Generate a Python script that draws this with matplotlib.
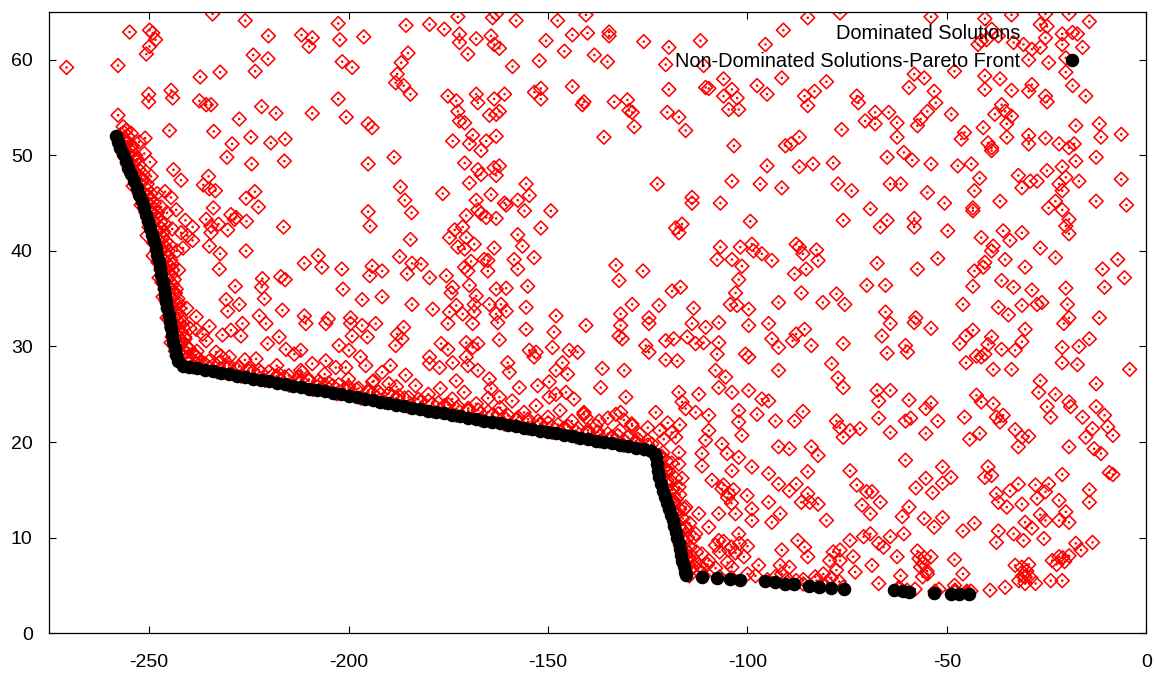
import numpy as np
import matplotlib
matplotlib.use("Agg")
import matplotlib.pyplot as plt
from matplotlib.path import Path
from matplotlib.lines import Line2D

plt.rcParams["font.family"] = ["Liberation Sans", "DejaVu Sans"]

# ---------------------------------------------------------------------------
# Non-dominated solutions (Pareto front), (objective 1, objective 2)
# ---------------------------------------------------------------------------
pareto_upper = [
    (-258.4, 52.0), (-257.9, 51.4), (-257.2, 50.8), (-256.5, 50.1), (-255.9, 49.4),
    (-255.2, 48.7), (-254.5, 48.0), (-253.8, 47.3), (-253.1, 46.6), (-252.5, 45.9),
    (-251.9, 45.2), (-251.3, 44.5), (-250.8, 43.8), (-250.2, 43.1), (-249.7, 42.4),
    (-249.2, 41.7), (-248.8, 41.0), (-248.4, 40.3), (-248.0, 39.6), (-247.6, 38.9),
    (-247.2, 38.2), (-246.9, 37.5), (-246.6, 36.8), (-246.3, 36.1), (-246.0, 35.4),
    (-245.7, 34.7), (-245.4, 34.0), (-245.1, 33.3), (-244.8, 32.6), (-244.5, 31.9),
    (-244.2, 31.2), (-243.9, 30.5), (-243.6, 29.8), (-243.2, 29.1), (-242.7, 28.5),
]
pareto_middle = [
    (-241.5, 28.0), (-240.0, 27.85), (-238.0, 27.7), (-236.0, 27.55), (-234.0, 27.4),
    (-232.0, 27.25), (-230.0, 27.1), (-228.0, 26.95), (-226.0, 26.8), (-224.0, 26.65),
    (-222.0, 26.5), (-220.0, 26.35), (-218.0, 26.2), (-216.0, 26.05), (-214.0, 25.9),
    (-212.0, 25.75), (-210.0, 25.6), (-208.0, 25.45), (-206.0, 25.3), (-204.0, 25.15),
    (-202.0, 25.0), (-200.0, 24.85), (-198.0, 24.7), (-196.0, 24.55), (-194.0, 24.4),
    (-192.0, 24.2), (-190.0, 24.05), (-188.0, 23.9), (-186.0, 23.75), (-184.0, 23.6),
    (-182.0, 23.45), (-180.0, 23.3), (-178.0, 23.15), (-176.0, 23.0), (-174.0, 22.85),
    (-172.0, 22.7), (-170.0, 22.55), (-168.0, 22.4), (-166.0, 22.25), (-164.0, 22.1),
    (-162.0, 21.95), (-160.0, 21.8), (-158.0, 21.65), (-156.0, 21.5), (-154.0, 21.35),
    (-152.0, 21.2), (-150.0, 21.05), (-148.0, 20.9), (-146.0, 20.75), (-144.0, 20.6),
    (-142.0, 20.45), (-140.0, 20.3), (-138.0, 20.15), (-136.0, 20.0), (-134.0, 19.85),
    (-132.0, 19.7), (-130.0, 19.55), (-128.0, 19.4), (-126.0, 19.25), (-124.2, 19.05),
]
pareto_lower = [
    (-123.3, 18.8), (-123.0, 18.4), (-122.8, 17.7), (-122.5, 17.0), (-122.2, 16.3),
    (-121.8, 15.6), (-121.3, 14.9), (-120.7, 14.2), (-120.1, 13.6), (-119.6, 13.0),
    (-119.1, 12.4), (-118.7, 11.8), (-118.3, 11.2), (-117.9, 10.6), (-117.6, 10.0),
    (-117.2, 9.4), (-116.9, 8.8), (-116.6, 8.2), (-116.3, 7.6), (-116.0, 7.0),
    (-115.7, 6.4), (-115.3, 6.1),
    (-111.4, 5.9), (-107.6, 5.8), (-104.3, 5.65), (-101.8, 5.6), (-95.5, 5.45),
    (-93.0, 5.4), (-90.5, 5.2), (-88.4, 5.1), (-84.6, 4.95), (-82.0, 4.85),
    (-79.0, 4.75), (-75.7, 4.65), (-63.3, 4.5), (-61.0, 4.4), (-59.4, 4.3),
    (-53.2, 4.25), (-49.0, 4.1), (-47.0, 4.1), (-44.4, 4.05),
]

# ---------------------------------------------------------------------------
# Dominated solutions
# ---------------------------------------------------------------------------
dominated_front_band = [
    # along the steep upper part of the front
    (-256.5, 53.0), (-255.8, 52.6), (-254.5, 52.3), (-256.0, 51.5), (-254.2, 51.0),
    (-252.5, 51.4), (-251.0, 51.8), (-255.0, 50.0), (-253.0, 49.6), (-251.2, 50.2),
    (-249.8, 49.3), (-253.6, 48.3), (-251.8, 47.5), (-249.5, 47.8), (-252.5, 46.3),
    (-250.4, 45.8), (-248.0, 46.0), (-246.0, 46.2), (-244.5, 45.6), (-251.2, 44.5),
    (-249.2, 44.0), (-247.0, 44.6), (-245.5, 44.0), (-243.2, 44.3), (-250.0, 42.5),
    (-248.0, 42.0), (-246.0, 42.8), (-244.2, 42.3), (-242.0, 41.9), (-240.4, 41.6),
    (-248.8, 40.8), (-246.8, 40.2), (-244.8, 40.6), (-243.0, 40.0), (-241.5, 40.3),
    (-247.8, 38.8), (-246.0, 38.2), (-244.2, 38.6), (-242.6, 38.0), (-246.8, 36.7),
    (-245.0, 36.2), (-243.4, 35.6), (-245.8, 34.8), (-244.2, 34.0), (-242.5, 34.5),
    (-240.6, 34.0), (-245.0, 32.8), (-243.3, 32.2), (-241.5, 32.5), (-239.8, 31.9),
    (-244.2, 31.0), (-242.6, 30.5), (-241.0, 30.8), (-243.4, 29.5), (-241.8, 29.2),
    (-240.0, 29.8), (-238.5, 29.1),
    (-257.0, 52.2), (-255.5, 49.2), (-254.0, 46.8), (-252.0, 44.8), (-250.5, 41.6),
    (-249.0, 39.5), (-247.5, 37.2), (-246.5, 35.2), (-245.5, 33.0), (-244.5, 30.4),
    (-257.5, 52.0), (-256.9, 51.0), (-256.2, 50.0), (-255.3, 49.0), (-254.4, 48.0),
    (-253.4, 47.0), (-252.5, 46.0), (-251.6, 45.0), (-250.8, 44.0), (-250.0, 43.0),
    (-249.3, 42.0), (-248.7, 41.0), (-248.1, 40.0), (-247.5, 39.0), (-247.0, 38.0),
    (-246.5, 37.0), (-246.0, 36.0), (-245.6, 35.0), (-245.2, 34.0), (-244.8, 33.0),
    (-244.4, 32.0), (-244.0, 31.0), (-243.5, 30.0), (-243.0, 29.0),
    (-256.3, 52.4), (-255.7, 51.2), (-255.0, 50.2), (-254.1, 49.0), (-253.2, 48.0),
    (-252.2, 47.0), (-251.3, 46.0), (-250.4, 45.0), (-249.6, 44.0), (-248.8, 43.0),
    (-248.1, 42.0), (-247.5, 41.0), (-246.9, 40.0), (-246.3, 39.0), (-245.8, 38.0),
    (-245.3, 37.0), (-244.8, 36.0), (-244.4, 35.0), (-244.0, 34.0), (-243.6, 33.0),
    (-243.2, 32.0), (-242.8, 31.0), (-242.3, 30.0), (-241.8, 29.0),
    (-255.6, 51.5), (-254.6, 50.5), (-253.6, 49.5), (-252.6, 48.5), (-251.6, 47.5),
    (-250.6, 46.5), (-249.7, 45.5), (-248.9, 44.5), (-248.1, 43.5), (-247.3, 42.5),
    (-246.7, 41.5), (-246.1, 40.5), (-245.5, 39.5), (-245.0, 38.5), (-244.5, 37.5),
    (-244.1, 36.5), (-243.6, 35.5), (-243.2, 34.5), (-242.8, 33.5), (-242.4, 32.5),
    (-241.9, 31.5), (-241.5, 30.5), (-241.0, 29.5), (-240.5, 28.8),
    (-255.4, 52.0), (-254.5, 51.0), (-253.4, 50.0), (-252.5, 49.0), (-251.5, 48.0),
    (-250.5, 47.0), (-249.6, 46.0), (-248.7, 45.0), (-247.9, 44.0), (-247.1, 43.0),
    (-246.4, 42.0), (-245.8, 41.0), (-245.2, 40.0), (-244.6, 39.0), (-244.1, 38.0),
    (-243.7, 37.0), (-243.2, 36.0), (-242.8, 35.0), (-242.4, 34.0), (-242.0, 33.0),
    (-241.5, 32.0), (-241.1, 31.0), (-240.7, 30.0), (-240.1, 29.0),
    # along the gently sloping middle part
    (-240.0, 28.4), (-237.0, 28.3), (-234.0, 28.0), (-231.0, 27.9), (-228.0, 27.6),
    (-225.0, 27.4), (-222.0, 27.3), (-219.0, 27.0), (-216.0, 26.8), (-213.0, 26.6),
    (-210.0, 26.4), (-207.0, 26.1), (-204.0, 25.9), (-201.0, 25.6), (-198.0, 25.5),
    (-195.0, 25.2), (-192.0, 25.0), (-189.0, 24.8), (-186.0, 24.6),
    (-238.0, 29.5), (-232.0, 29.0), (-226.0, 28.6), (-218.0, 28.0), (-212.0, 27.5),
    (-206.0, 27.1), (-200.0, 26.6), (-194.0, 26.3), (-188.0, 25.8),
    (-182.0, 24.2), (-179.0, 24.0), (-176.0, 23.8), (-173.0, 23.5), (-170.0, 23.3),
    (-167.0, 23.0), (-164.0, 22.8), (-161.0, 22.6), (-158.0, 22.3), (-155.0, 22.1),
    (-152.0, 21.8), (-149.0, 21.6), (-146.0, 21.4), (-143.0, 21.1), (-140.0, 20.9),
    (-137.0, 20.6), (-134.0, 20.4), (-131.0, 20.2), (-128.0, 19.9), (-125.0, 19.7),
    (-180.0, 25.0), (-174.0, 24.5), (-168.0, 24.0), (-162.0, 23.6), (-156.0, 23.1),
    (-150.0, 22.6), (-144.0, 22.2), (-138.0, 21.7), (-132.0, 21.2), (-127.0, 20.8),
    (-177.0, 25.6), (-171.0, 25.2), (-165.0, 24.6), (-159.0, 24.3), (-153.0, 23.8),
    (-147.0, 23.3), (-141.0, 22.9), (-135.0, 22.5), (-133.0, 22.9), (-131.0, 22.3),
    (-129.0, 21.9), (-125.0, 21.5), (-122.0, 21.2), (-120.0, 22.0), (-119.0, 21.0),
    (-121.0, 20.3), (-118.0, 20.5), (-117.0, 21.8),
    (-239.0, 27.85), (-233.0, 27.35), (-227.0, 26.9), (-221.0, 26.45), (-215.0, 25.95),
    (-209.0, 25.5), (-203.0, 25.05), (-197.0, 24.6), (-191.0, 24.15), (-185.0, 23.7),
    (-179.0, 23.25), (-173.0, 22.8), (-167.0, 22.35), (-161.0, 21.9), (-155.0, 21.45),
    (-149.0, 21.0), (-143.0, 20.55), (-137.0, 20.1), (-131.0, 19.65), (-126.0, 19.3),
    (-236.0, 28.2), (-230.0, 27.8), (-224.0, 27.35), (-218.0, 26.9), (-212.0, 26.45),
    (-206.0, 26.0), (-200.0, 25.55), (-194.0, 25.1), (-188.0, 24.6), (-182.0, 24.15),
    (-176.0, 23.7), (-170.0, 23.25), (-164.0, 22.8), (-158.0, 22.35), (-152.0, 21.9),
    (-146.0, 21.45), (-140.0, 21.0), (-134.0, 20.55), (-128.0, 20.1), (-124.0, 19.8),
    (-240.0, 28.85), (-237.5, 28.66), (-235.0, 28.47), (-232.5, 28.28), (-230.0, 28.09),
    (-227.5, 27.9), (-225.0, 27.71), (-222.5, 27.52), (-220.0, 27.33), (-217.5, 27.14),
    (-215.0, 26.95), (-212.5, 26.76), (-210.0, 26.57), (-207.5, 26.38), (-205.0, 26.19),
    (-202.5, 26.0), (-200.0, 25.81), (-197.5, 25.62), (-195.0, 25.43), (-192.5, 25.24),
    (-190.0, 25.05), (-187.5, 24.86), (-185.0, 24.67), (-182.5, 24.48), (-180.0, 24.29),
    (-177.5, 24.1), (-175.0, 23.91), (-172.5, 23.72), (-170.0, 23.53), (-167.5, 23.34),
    (-165.0, 23.15), (-162.5, 22.96), (-160.0, 22.77), (-157.5, 22.58), (-155.0, 22.39),
    (-152.5, 22.2), (-150.0, 22.01), (-147.5, 21.82), (-145.0, 21.63), (-142.5, 21.44),
    (-140.0, 21.25), (-137.5, 21.06), (-135.0, 20.87), (-132.5, 20.68), (-130.0, 20.49),
    (-127.5, 20.3), (-125.0, 20.11),
    # along the steep lower part and the tail
    (-121.5, 18.5), (-120.5, 17.0), (-119.8, 15.5), (-118.8, 14.0), (-117.5, 12.5),
    (-116.8, 11.0), (-115.5, 9.5), (-114.8, 8.0), (-114.0, 6.8), (-119.0, 17.8),
    (-118.0, 16.2), (-117.0, 14.5), (-115.8, 13.0), (-114.5, 11.5), (-113.5, 10.0),
    (-112.8, 8.5), (-112.0, 7.0),
    (-122.3, 18.6), (-121.9, 17.5), (-121.3, 16.3), (-120.6, 15.1), (-119.7, 13.9),
    (-118.8, 12.7), (-118.0, 11.5), (-117.3, 10.3), (-116.7, 9.1), (-116.1, 7.9),
    (-115.5, 6.8), (-114.6, 6.0),
    (-121.2, 18.9), (-120.8, 17.3), (-120.2, 16.0), (-119.4, 14.8), (-118.6, 13.6),
    (-117.8, 12.4), (-117.0, 11.2), (-116.3, 10.0), (-115.7, 8.8), (-115.1, 7.6),
    (-114.4, 6.6),
    (-120.3, 18.0), (-119.9, 17.0), (-119.4, 16.0), (-118.8, 15.0), (-117.9, 14.0),
    (-117.0, 13.0), (-116.2, 12.0), (-115.6, 11.0), (-115.0, 10.0), (-114.4, 9.0),
    (-113.9, 8.0), (-113.4, 7.0),
    (-108.0, 9.2), (-106.0, 9.6), (-104.0, 9.0), (-102.0, 9.4), (-100.0, 9.1),
    (-107.0, 8.5), (-103.0, 8.4), (-110.0, 7.2), (-108.0, 6.8), (-105.0, 7.4),
    (-105.0, 14.2), (-103.5, 15.0), (-104.0, 13.6), (-106.0, 15.5),
    (-83.0, 5.9), (-81.0, 6.2), (-79.0, 5.8), (-77.0, 5.4), (-80.0, 5.3),
    (-86.0, 5.6), (-90.0, 5.7), (-93.0, 5.9), (-98.0, 6.0), (-100.0, 6.2),
    (-62.0, 4.8), (-58.0, 4.6), (-52.0, 4.6), (-48.0, 4.5), (-45.0, 4.4),
    (-31.0, 6.0), (-30.0, 6.5), (-29.0, 5.8), (-32.0, 5.5), (-29.5, 7.2),
    (-22.5, 7.2), (-21.0, 7.9), (-20.5, 7.5), (-56.0, 7.3), (-55.0, 6.5),
    (-57.0, 7.8), (-44.0, 4.4),
    (-111.0, 6.0), (-107.0, 5.9), (-104.0, 5.8), (-95.0, 5.6), (-90.0, 5.35),
    (-86.0, 5.15), (-81.0, 5.0), (-76.0, 4.8), (-62.0, 4.6), (-60.0, 4.5),
    (-53.0, 4.4), (-48.0, 4.3), (-45.0, 4.2),
]

dominated_left = [
    (-234.1, 64.8), (-225.9, 64.1), (-202.6, 63.8), (-185.6, 63.6), (-254.9, 62.9),
    (-249.9, 63.1), (-249.1, 62.8), (-248.4, 62.1), (-249.9, 61.4), (-250.7, 60.6),
    (-220.1, 62.5), (-211.8, 62.6), (-209.1, 62.3), (-202.2, 62.1), (-196.2, 62.4),
    (-209.9, 61.4), (-185.1, 60.7), (-270.7, 59.2), (-257.8, 59.4), (-223.9, 60.5),
    (-220.2, 60.1), (-201.6, 59.8), (-199.1, 59.2), (-186.8, 59.7), (-187.8, 58.5),
    (-188.2, 57.6), (-186.2, 57.3), (-184.5, 56.4), (-237.2, 58.2), (-232.2, 58.7),
    (-223.4, 58.8), (-250.1, 56.4), (-250.1, 55.6), (-244.5, 56.8), (-244.1, 56.0),
    (-237.4, 55.7), (-235.7, 55.3), (-234.5, 55.3), (-221.8, 55.1), (-218.2, 54.4),
    (-209.1, 54.4), (-202.6, 55.9), (-200.6, 54.0), (-195.1, 53.3), (-194.1, 52.9),
    (-257.8, 54.2), (-227.4, 53.8), (-244.9, 52.6), (-233.8, 52.5), (-229.2, 51.2),
    (-224.5, 51.9), (-219.5, 51.3), (-215.9, 51.7), (-230.5, 49.8), (-224.3, 49.1),
    (-216.1, 49.4), (-195.1, 49.1), (-188.6, 49.8), (-243.9, 48.5), (-235.1, 47.8),
    (-242.0, 47.4), (-236.4, 46.9), (-234.9, 46.5), (-233.4, 46.3), (-223.5, 46.2),
    (-225.7, 45.5), (-222.6, 44.6), (-233.9, 44.5), (-229.5, 43.8), (-228.2, 43.5),
    (-235.7, 43.3), (-234.5, 42.6), (-232.6, 42.8), (-230.3, 42.2), (-228.6, 43.3),
    (-225.6, 43.1), (-239.1, 42.5), (-240.9, 43.2), (-195.1, 44.1), (-194.6, 42.6),
    (-187.0, 46.7), (-185.9, 45.3), (-184.2, 44.0), (-184.5, 41.2), (-216.3, 42.5),
    (-239.1, 41.1), (-234.5, 41.9), (-234.9, 40.5), (-232.2, 39.7), (-225.7, 40.0),
    (-211.1, 38.7), (-207.6, 39.5), (-206.7, 38.3), (-201.7, 38.1), (-194.1, 38.4),
    (-191.6, 37.9), (-194.7, 37.4), (-187.2, 39.4), (-184.1, 38.7), (-185.3, 37.6),
    (-232.4, 38.1), (-228.4, 36.3), (-221.6, 37.1), (-221.8, 36.2), (-217.0, 37.3),
    (-215.9, 37.0), (-201.4, 36.0), (-196.6, 34.9), (-191.6, 35.2), (-184.1, 34.4),
    (-230.7, 34.9), (-227.4, 34.4), (-221.1, 35.0), (-216.6, 33.8), (-230.3, 33.7),
    (-222.4, 33.2), (-211.1, 33.2), (-205.1, 32.9), (-199.5, 33.0), (-238.2, 33.1),
    (-238.2, 31.8), (-234.9, 32.1), (-231.6, 31.2), (-229.5, 31.7), (-226.6, 32.4),
    (-227.0, 31.1), (-220.7, 32.4), (-220.3, 30.3), (-223.2, 28.7), (-217.4, 31.0),
    (-215.7, 29.7), (-213.6, 29.2), (-212.0, 29.6), (-210.7, 32.4), (-205.7, 32.4),
    (-199.5, 32.4), (-196.6, 32.2), (-193.2, 32.4), (-199.1, 31.1), (-195.3, 31.0),
    (-188.2, 30.1), (-187.8, 31.3), (-186.2, 32.0), (-186.6, 30.8), (-202.4, 30.1),
    (-199.9, 29.6), (-197.0, 28.9), (-191.6, 27.3), (-189.5, 28.0), (-185.7, 27.0),
    (-183.2, 25.9), (-209.1, 28.2), (-205.7, 28.5), (-203.2, 27.8), (-211.6, 27.3),
    (-200.7, 27.8), (-195.7, 28.0), (-193.7, 26.4), (-189.9, 26.1), (-238.2, 28.9),
    (-233.2, 29.4), (-229.9, 28.9), (-235.7, 30.6), (-236.6, 31.3),
]

dominated_middle = [
    (-179.7, 63.7), (-176.0, 63.2), (-172.6, 64.5), (-163.9, 64.4), (-163.0, 64.8),
    (-158.0, 64.1), (-147.6, 64.1), (-140.5, 64.7), (-140.1, 62.8), (-143.9, 62.6),
    (-150.5, 62.0), (-134.7, 62.9), (-134.7, 62.5), (-126.0, 61.9), (-111.8, 62.0),
    (-119.7, 61.3), (-95.5, 61.6), (-91.0, 63.1), (-172.2, 62.7), (-168.0, 62.2),
    (-164.3, 62.5), (-172.2, 61.8), (-163.5, 61.6), (-162.2, 61.2), (-170.1, 60.6),
    (-158.9, 59.3), (-152.2, 59.9), (-145.9, 60.9), (-138.4, 60.5), (-135.1, 59.8),
    (-120.5, 59.5), (-111.0, 59.4), (-106.0, 58.0), (-110.5, 57.1), (-109.7, 57.0),
    (-103.9, 56.9), (-102.6, 56.0), (-97.6, 57.3), (-95.1, 56.4), (-91.4, 58.1),
    (-104.7, 54.8), (-102.2, 54.8), (-120.1, 54.5), (-117.2, 54.0), (-115.5, 52.6),
    (-119.7, 56.9), (-106.0, 56.2), (-143.9, 57.2), (-151.8, 57.0), (-153.4, 56.6),
    (-151.8, 55.9), (-141.0, 55.6), (-141.4, 55.3), (-133.4, 55.6), (-130.1, 55.8),
    (-129.7, 54.7), (-128.9, 54.5), (-128.4, 53.0), (-136.0, 51.9), (-175.1, 56.2),
    (-173.0, 55.7), (-172.6, 54.6), (-168.0, 56.4), (-167.6, 55.5), (-163.5, 55.9),
    (-160.9, 56.4), (-162.2, 54.6), (-163.0, 54.3), (-164.7, 54.2), (-172.2, 53.6),
    (-170.9, 53.4), (-173.9, 51.5), (-168.9, 52.1), (-165.5, 51.5), (-163.0, 52.0),
    (-169.7, 51.2), (-166.8, 50.5), (-170.9, 49.2), (-167.6, 48.5), (-166.8, 48.0),
    (-163.5, 48.7), (-162.2, 48.9), (-163.0, 47.9), (-169.7, 47.1), (-176.4, 46.0),
    (-164.3, 45.9), (-168.0, 45.3), (-160.9, 45.0), (-160.5, 44.8), (-157.6, 45.3),
    (-154.7, 45.8), (-155.5, 47.0), (-167.6, 44.3), (-166.8, 43.9), (-163.0, 43.4),
    (-165.5, 43.5), (-170.5, 43.7), (-149.3, 44.2), (-155.9, 44.2), (-151.8, 42.4),
    (-173.4, 42.2), (-171.4, 42.5), (-174.7, 41.4), (-170.5, 41.4), (-172.6, 40.4),
    (-170.9, 40.2), (-168.5, 40.7), (-163.5, 40.3), (-166.0, 39.1), (-165.1, 39.0),
    (-157.6, 41.7), (-156.4, 40.5), (-158.5, 39.1), (-153.5, 39.3), (-157.6, 38.1),
    (-169.3, 38.9), (-170.9, 38.3), (-170.1, 37.9), (-165.1, 37.9), (-175.5, 37.4),
    (-179.7, 37.2), (-181.8, 38.6), (-173.9, 36.2), (-169.7, 36.4), (-163.0, 36.0),
    (-160.5, 36.1), (-155.1, 36.3), (-168.0, 35.3), (-174.3, 35.6), (-173.0, 34.3),
    (-168.5, 34.4), (-164.7, 34.4), (-161.8, 34.4), (-178.9, 33.9), (-174.7, 33.6),
    (-171.4, 33.4), (-168.5, 33.6), (-163.0, 33.4), (-160.5, 33.7), (-155.5, 34.1),
    (-148.0, 33.2), (-133.0, 38.5), (-132.2, 36.9), (-126.2, 37.9), (-122.6, 47.0),
    (-113.9, 45.6), (-113.9, 45.0), (-106.8, 45.0), (-118.0, 42.4), (-116.4, 42.8),
    (-117.2, 41.9), (-99.3, 43.1), (-96.8, 47.0), (-91.4, 46.6), (-95.1, 48.9),
    (-103.9, 47.3), (-103.4, 51.0), (-90.5, 51.0), (-106.8, 40.4), (-107.6, 39.1),
    (-103.9, 39.1), (-101.8, 40.4), (-101.4, 38.4), (-98.9, 40.7), (-96.4, 39.7),
    (-93.9, 39.0), (-98.5, 40.0), (-102.2, 37.0), (-103.0, 35.6), (-104.3, 34.4),
    (-102.6, 34.3), (-99.7, 33.9), (-92.2, 34.6), (-116.8, 36.2), (-118.9, 35.8),
    (-128.9, 34.4), (-122.2, 34.3), (-113.5, 34.0), (-131.8, 33.4), (-124.7, 33.0),
    (-175.1, 32.4), (-168.9, 32.4), (-162.6, 32.5), (-155.5, 31.8), (-148.5, 31.5),
    (-140.5, 32.2), (-131.8, 32.2), (-124.7, 32.4), (-113.9, 32.4), (-110.5, 32.0),
    (-107.2, 32.5), (-99.7, 32.2), (-94.7, 32.4), (-176.8, 30.3), (-175.1, 29.7),
    (-170.5, 30.4), (-168.9, 29.9), (-167.6, 30.3), (-162.2, 30.7), (-170.5, 28.9),
    (-170.1, 28.0), (-173.0, 26.4), (-167.6, 27.5), (-164.7, 26.6), (-159.7, 27.3),
    (-160.1, 28.3), (-154.7, 29.6), (-153.5, 28.9), (-153.0, 29.4), (-148.9, 29.9),
    (-144.7, 29.6), (-142.6, 29.4), (-146.4, 28.3), (-148.0, 27.5), (-145.1, 27.1),
    (-149.7, 26.3), (-136.4, 27.7), (-130.9, 27.5), (-136.8, 25.7), (-130.5, 24.7),
    (-132.2, 31.1), (-131.4, 30.8), (-125.5, 30.1), (-124.7, 29.4), (-120.5, 30.6),
    (-120.5, 28.6), (-117.6, 28.5), (-118.5, 30.8), (-115.1, 31.0), (-113.0, 30.3),
    (-111.0, 30.4), (-107.6, 29.2), (-107.2, 30.4), (-100.5, 29.2), (-99.7, 28.9),
    (-93.9, 30.8), (-92.2, 29.9), (-92.2, 27.5), (-179.7, 28.9), (-179.7, 28.2),
    (-177.2, 27.8), (-173.9, 28.3), (-164.3, 25.6), (-162.2, 24.7), (-157.2, 25.7),
    (-152.6, 25.9), (-148.0, 25.0), (-145.5, 25.2), (-149.7, 24.7), (-143.5, 24.5),
    (-141.0, 23.1), (-140.5, 22.6), (-137.2, 22.2), (-131.8, 23.1), (-128.9, 21.7),
    (-123.0, 23.1), (-117.2, 25.2), (-112.2, 25.0), (-116.4, 24.2), (-115.5, 23.5),
    (-113.0, 23.1), (-109.7, 22.8), (-108.0, 27.5), (-105.5, 26.8), (-107.2, 25.7),
    (-103.9, 25.2), (-99.7, 25.4), (-96.4, 24.5), (-94.7, 24.3), (-102.2, 23.3),
    (-97.6, 22.9), (-93.0, 22.2), (-102.2, 22.1), (-101.4, 20.7), (-92.2, 19.5),
    (-94.7, 16.7), (-92.2, 15.6), (-98.9, 17.4), (-102.2, 18.4), (-105.1, 18.8),
    (-109.7, 21.2), (-110.5, 20.2), (-106.4, 19.8), (-117.2, 18.9), (-111.4, 18.8),
    (-117.2, 17.7), (-116.4, 16.2), (-111.4, 17.5), (-108.9, 16.0), (-106.4, 15.1),
    (-103.9, 17.0), (-104.7, 14.6), (-100.1, 14.4), (-98.9, 13.0), (-94.7, 13.7),
    (-93.9, 11.6), (-91.8, 12.5), (-98.9, 11.8), (-102.2, 10.4), (-104.7, 8.7),
    (-100.9, 8.0), (-97.2, 7.1), (-103.9, 6.9), (-109.7, 7.6), (-111.4, 8.3),
    (-113.0, 10.4), (-109.7, 11.1), (-112.2, 12.5), (-115.5, 13.2), (-117.2, 15.3),
    (-115.5, 11.1), (-107.2, 12.5), (-103.0, 12.5), (-115.5, 8.3), (-107.2, 9.7),
    (-91.4, 8.7), (-91.8, 7.1), (-91.4, 6.2), (-111.4, 6.9),
]

dominated_right = [
    (-84.9, 64.4), (-76.8, 64.9), (-54.0, 64.5), (-40.5, 64.3), (-33.8, 64.7),
    (-25.3, 64.8), (-19.4, 64.8), (-14.3, 64.0), (-26.6, 63.7), (-24.9, 63.5),
    (-21.1, 62.7), (-17.3, 62.7), (-38.8, 63.2), (-41.4, 62.0), (-42.2, 61.6),
    (-40.1, 62.1), (-37.1, 62.5), (-33.3, 61.8), (-30.8, 61.6), (-28.7, 61.1),
    (-26.6, 61.3), (-25.3, 62.3), (-21.1, 61.6), (-29.5, 60.0), (-24.5, 59.7),
    (-20.2, 60.2), (-16.0, 61.3), (-48.1, 58.8), (-58.2, 58.5), (-55.7, 58.1),
    (-59.5, 57.1), (-53.2, 56.7), (-52.8, 55.5), (-54.9, 54.6), (-56.6, 53.8),
    (-57.4, 53.1), (-48.9, 54.3), (-45.6, 52.4), (-46.4, 51.7), (-40.9, 52.9),
    (-39.7, 51.3), (-38.8, 50.8), (-38.8, 50.5), (-35.0, 51.9), (-29.5, 52.1),
    (-25.3, 51.8), (-29.5, 51.2), (-21.9, 51.2), (-19.4, 50.8), (-18.1, 51.2),
    (-17.7, 49.4), (-12.6, 49.8), (-11.4, 51.9), (-6.3, 52.2), (-17.7, 53.1),
    (-11.8, 53.3), (-40.5, 58.3), (-36.7, 58.0), (-40.5, 56.9), (-33.8, 56.8),
    (-29.5, 56.7), (-28.7, 57.4), (-25.3, 56.2), (-24.9, 55.6), (-36.3, 55.3),
    (-35.4, 54.6), (-38.0, 54.3), (-33.8, 54.1), (-35.0, 53.3), (-18.5, 57.3),
    (-15.2, 56.2), (-20.2, 58.7), (-80.2, 57.7), (-83.2, 56.7), (-85.7, 56.2),
    (-84.9, 55.2), (-72.6, 56.2), (-72.2, 55.5), (-68.0, 54.5), (-64.6, 54.5),
    (-70.5, 53.6), (-68.0, 53.3), (-62.5, 53.4), (-62.5, 51.9), (-76.4, 52.7),
    (-87.0, 51.9), (-89.1, 51.2), (-65.0, 49.8), (-60.8, 50.3), (-58.7, 49.5),
    (-54.0, 49.1), (-47.3, 48.9), (-43.9, 49.1), (-41.8, 47.6), (-43.1, 46.3),
    (-43.5, 44.5), (-43.5, 44.2), (-78.5, 49.2), (-83.6, 49.1), (-87.0, 48.8),
    (-77.3, 47.0), (-73.9, 46.3), (-64.2, 47.0), (-61.6, 47.0), (-54.9, 46.1),
    (-50.6, 45.0), (-36.7, 45.2), (-32.1, 47.9), (-31.2, 46.6), (-29.1, 47.3),
    (-27.4, 47.3), (-24.9, 48.4), (-21.1, 48.8), (-20.2, 47.7), (-16.9, 47.3),
    (-21.9, 47.0), (-21.1, 46.3), (-22.8, 45.2), (-24.5, 44.5), (-21.1, 44.3),
    (-19.4, 43.3), (-20.2, 42.6), (-19.4, 41.8), (-6.3, 47.5), (-12.6, 45.2),
    (-5.0, 44.8), (-69.2, 44.4), (-66.7, 42.5), (-65.0, 43.2), (-76.0, 43.2),
    (-58.2, 43.4), (-58.2, 42.5), (-49.8, 42.1), (-41.4, 41.4), (-35.9, 42.1),
    (-31.2, 41.9), (-34.2, 41.1), (-38.4, 40.5), (-38.8, 40.0), (-35.4, 39.1),
    (-30.4, 38.3), (-40.5, 38.8), (-40.9, 38.3), (-26.6, 40.3), (-22.8, 39.3),
    (-87.8, 40.7), (-87.0, 40.4), (-82.7, 40.1), (-86.1, 39.7), (-82.3, 39.0),
    (-85.3, 38.1), (-88.2, 37.6), (-67.5, 38.7), (-57.4, 38.1), (-52.3, 39.2),
    (-43.1, 37.9), (-36.3, 36.9), (-33.3, 36.2), (-28.7, 35.9), (-27.4, 34.4),
    (-26.2, 34.6), (-20.2, 36.1), (-19.8, 34.4), (-10.5, 36.2), (-7.2, 39.1),
    (-11.0, 38.1), (-5.5, 37.2), (-86.5, 35.6), (-81.1, 34.6), (-77.7, 35.5),
    (-75.6, 34.4), (-70.1, 36.4), (-65.4, 36.4), (-65.4, 33.6), (-57.8, 33.0),
    (-46.0, 34.4), (-43.5, 36.3), (-37.1, 34.1), (-34.6, 33.3), (-31.2, 34.3),
    (-11.8, 33.0), (-19.4, 33.0),
    (-87.8, 31.3), (-85.7, 31.8), (-88.7, 30.6), (-84.0, 30.1), (-76.0, 30.3),
    (-78.9, 28.2), (-77.3, 26.7), (-76.0, 25.7), (-66.3, 31.1), (-65.0, 29.3),
    (-60.4, 30.1), (-59.9, 29.4), (-54.0, 31.9), (-64.2, 32.4), (-58.2, 32.5),
    (-45.2, 31.1), (-43.5, 31.7), (-46.8, 30.3), (-38.8, 31.0), (-36.3, 29.7),
    (-39.7, 30.2), (-40.5, 29.2), (-45.2, 28.3), (-42.6, 29.0), (-41.4, 28.9),
    (-38.4, 27.6), (-33.8, 27.6), (-30.4, 31.8), (-31.2, 30.5), (-32.9, 29.6),
    (-20.7, 32.4), (-21.1, 29.9), (-16.9, 30.0), (-14.3, 30.8), (-21.1, 28.3),
    (-17.3, 28.1), (-4.2, 27.6), (-12.6, 26.1), (-26.6, 26.4), (-27.0, 25.2),
    (-22.8, 25.0), (-19.4, 24.2), (-19.0, 23.7), (-24.9, 23.7), (-24.0, 22.6),
    (-16.0, 22.6), (-12.6, 23.7), (-10.5, 22.8), (-9.7, 21.6), (-8.4, 20.7),
    (-13.5, 21.4), (-15.2, 20.5), (-13.1, 19.3), (-11.4, 18.8), (-19.4, 19.5),
    (-32.1, 19.5), (-31.2, 20.5), (-29.5, 20.6), (-44.3, 20.3), (-41.8, 20.9),
    (-32.9, 21.3), (-35.9, 22.8), (-37.6, 22.6), (-36.7, 22.1), (-45.6, 22.6),
    (-41.4, 24.2), (-42.6, 24.9), (-38.4, 24.0), (-55.3, 20.9), (-52.3, 22.2),
    (-54.0, 24.1), (-55.3, 23.5), (-59.1, 22.5), (-60.4, 22.2), (-67.1, 24.3),
    (-67.5, 25.4), (-64.2, 25.4), (-59.5, 24.4), (-67.1, 22.5), (-64.2, 21.0),
    (-74.3, 21.2), (-71.8, 21.4), (-77.7, 22.2), (-76.8, 21.5), (-76.0, 20.5),
    (-86.1, 23.2), (-88.2, 22.2), (-89.5, 19.3), (-84.0, 19.5), (-82.3, 18.6),
    (-60.4, 18.1), (-51.1, 17.4), (-49.0, 16.3), (-51.1, 15.7), (-55.3, 16.2),
    (-57.8, 15.2), (-53.6, 14.7), (-39.7, 17.4), (-40.5, 16.3), (-38.8, 16.5),
    (-32.1, 15.6), (-27.8, 15.5), (-24.5, 15.6), (-21.1, 16.6), (-21.9, 13.9),
    (-14.3, 15.0), (-14.3, 13.7), (-9.3, 16.8), (-8.4, 16.6), (-37.6, 14.6),
    (-34.2, 14.9), (-31.2, 13.5), (-35.0, 13.2), (-37.1, 13.7), (-27.4, 14.1),
    (-25.3, 14.8), (-30.4, 11.6), (-26.6, 12.4), (-25.3, 11.8), (-28.7, 11.0),
    (-21.9, 11.8), (-20.2, 12.7), (-19.4, 11.6), (-25.7, 9.9), (-33.3, 10.4),
    (-37.6, 9.5), (-37.1, 10.7), (-43.1, 11.5), (-46.0, 10.7), (-30.8, 9.7),
    (-84.9, 16.9), (-87.8, 15.6), (-74.3, 17.0), (-72.6, 15.5), (-68.8, 14.8),
    (-66.7, 13.7), (-69.2, 12.5), (-71.3, 13.4), (-80.2, 11.8), (-84.9, 14.6),
    (-84.4, 13.7), (-86.5, 13.7), (-82.3, 13.5), (-89.5, 14.9), (-70.1, 14.8),
    (-61.2, 12.2), (-59.5, 13.2), (-55.7, 12.0), (-53.2, 11.1), (-51.1, 12.1),
    (-60.8, 10.4), (-64.2, 10.1), (-67.1, 9.4), (-65.9, 9.0), (-70.9, 10.1),
    (-69.2, 10.4), (-74.3, 9.7), (-76.8, 8.7), (-76.8, 7.6), (-73.5, 8.0),
    (-73.0, 6.4), (-68.8, 7.1), (-62.5, 8.0), (-61.6, 6.0), (-67.1, 5.2),
    (-57.4, 8.6), (-55.7, 7.9), (-54.0, 8.0), (-56.6, 6.9), (-56.1, 5.9),
    (-54.9, 6.2), (-48.1, 7.7), (-46.0, 6.2), (-48.1, 5.0), (-39.2, 4.5),
    (-35.4, 4.8), (-32.9, 7.1), (-31.2, 6.9), (-30.4, 5.9), (-30.4, 5.2),
    (-27.8, 5.2), (-24.0, 5.5), (-21.1, 5.5), (-23.6, 7.6), (-21.9, 8.0),
    (-19.4, 8.1), (-17.7, 9.4), (-13.5, 9.5), (-16.4, 8.7), (-89.5, 6.9),
    (-87.4, 9.7), (-85.7, 9.0), (-84.9, 8.0), (-79.4, 7.6), (-78.5, 8.5),
    (-77.7, 6.6), (-82.7, 5.5), (-87.8, 5.5),
]

x_ticks = [-250, -200, -150, -100, -50, 0]
y_ticks = [0, 10, 20, 30, 40, 50, 60]
label_dominated = "Dominated Solutions"
label_pareto = "Non-Dominated Solutions-Pareto Front"

# open diamond with a small dot at its centre
diamond_dot = Path(
    [(0, 1), (1, 0), (0, -1), (-1, 0), (0, 1),
     (-0.06, 0.06), (0.06, 0.06), (0.06, -0.06), (-0.06, -0.06), (-0.06, 0.06)],
    [Path.MOVETO, Path.LINETO, Path.LINETO, Path.LINETO, Path.CLOSEPOLY,
     Path.MOVETO, Path.LINETO, Path.LINETO, Path.LINETO, Path.CLOSEPOLY],
)

dominated = np.array(dominated_front_band + dominated_left + dominated_middle + dominated_right)
pareto = np.array(pareto_upper + pareto_middle + pareto_lower)

fig = plt.figure(figsize=(11.56, 6.73), dpi=100)
ax = fig.add_axes([49.4 / 1156, 1 - 633.2 / 673, (1146.4 - 49.4) / 1156, (633.2 - 12) / 673])

ax.scatter(dominated[:, 0], dominated[:, 1], marker=diamond_dot, s=100,
           facecolors="none", edgecolors="#ff0000", linewidths=1.15, zorder=2)
ax.scatter(pareto[:, 0], pareto[:, 1], marker="o", s=95,
           color="black", linewidths=0, zorder=3)

ax.set_xlim(-275, 0)
ax.set_ylim(0, 65)
ax.set_xticks(x_ticks)
ax.set_yticks(y_ticks)
ax.set_xticklabels([str(t) for t in x_ticks])
ax.set_yticklabels([str(t) for t in y_ticks])
ax.tick_params(direction="in", length=5, width=0.8, top=True, right=True,
               labelsize=14, colors="black")
ax.tick_params(axis="x", pad=15)
ax.tick_params(axis="y", pad=12)
for sp in ax.spines.values():
    sp.set_linewidth(0.9)
    sp.set_color("black")

handles = [
    Line2D([], [], linestyle="none", marker=diamond_dot, markersize=10,
           markerfacecolor="none", markeredgecolor="#ff0000", markeredgewidth=1.15),
    Line2D([], [], linestyle="none", marker="o", markersize=9.7,
           markerfacecolor="black", markeredgewidth=0),
]
ax.legend(handles, [label_dominated, label_pareto], loc="upper right",
          bbox_to_anchor=(0.9504, 0.980), frameon=False, markerfirst=False,
          fontsize=14.4, borderaxespad=0, borderpad=0, handletextpad=1.6,
          labelspacing=0.42, handlelength=2.0)

fig.savefig("out.png", dpi=100)
